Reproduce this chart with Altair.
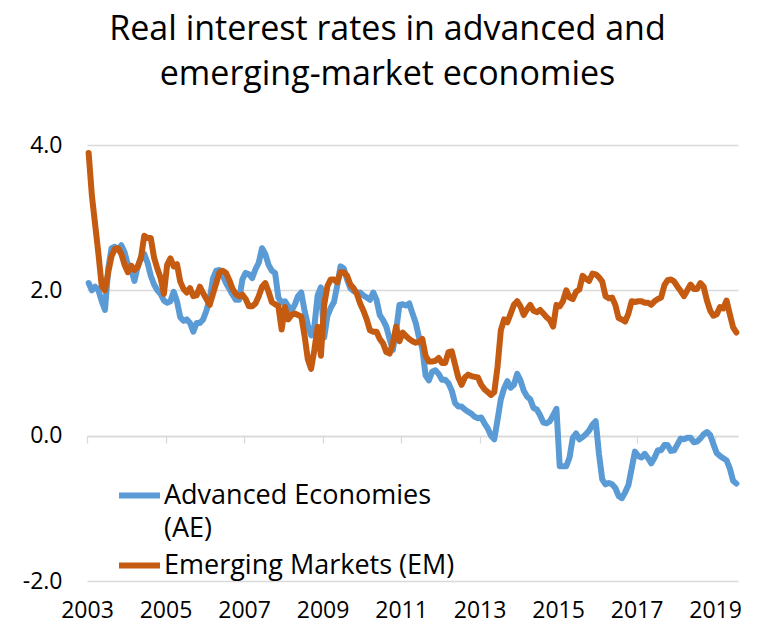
import altair as alt
import pandas as pd

# Monthly observations, Jan 2003 - Jul 2019 (percent)
ae_values = [
    # 2003
    2.10, 2.00, 2.05, 2.00, 1.85, 1.73, 2.30, 2.58, 2.60, 2.56, 2.62, 2.52,
    # 2004
    2.35, 2.29, 2.13, 2.33, 2.45, 2.50, 2.38, 2.20, 2.08, 2.00, 1.95, 1.86,
    # 2005
    1.83, 1.85, 1.98, 1.85, 1.63, 1.58, 1.60, 1.55, 1.43, 1.55, 1.55, 1.60,
    # 2006
    1.72, 1.88, 2.16, 2.27, 2.28, 2.20, 2.10, 2.02, 1.94, 1.87, 1.87, 2.15,
    # 2007
    2.24, 2.22, 2.17, 2.29, 2.38, 2.58, 2.50, 2.35, 2.27, 2.24, 1.90, 1.83,
    # 2008
    1.85, 1.78, 1.72, 1.80, 1.92, 1.97, 1.72, 1.52, 1.38, 1.50, 1.93, 2.04,
    # 2009
    1.35, 1.65, 1.76, 1.84, 2.07, 2.33, 2.30, 2.15, 2.03, 1.99, 1.97, 1.97,
    # 2010
    1.93, 1.90, 1.87, 1.97, 1.87, 1.66, 1.59, 1.50, 1.33, 1.18, 1.45, 1.80,
    # 2011
    1.81, 1.79, 1.82, 1.68, 1.55, 1.35, 1.20, 0.83, 0.76, 0.88, 0.90, 0.85,
    # 2012
    0.77, 0.77, 0.72, 0.62, 0.45, 0.40, 0.40, 0.36, 0.33, 0.30, 0.26, 0.24,
    # 2013
    0.25, 0.17, 0.10, 0.00, -0.05, 0.22, 0.50, 0.65, 0.75, 0.66, 0.70, 0.85,
    # 2014
    0.76, 0.62, 0.54, 0.50, 0.38, 0.36, 0.28, 0.18, 0.17, 0.20, 0.28, 0.37,
    # 2015
    -0.42, -0.42, -0.42, -0.30, -0.03, 0.03, -0.05, -0.02, 0.02, 0.07, 0.15, 0.20,
    # 2016
    -0.25, -0.60, -0.67, -0.65, -0.67, -0.72, -0.83, -0.86, -0.78, -0.68, -0.45, -0.22,
    # 2017
    -0.28, -0.30, -0.25, -0.31, -0.38, -0.30, -0.20, -0.20, -0.13, -0.13, -0.21, -0.20,
    # 2018
    -0.12, -0.04, -0.05, -0.03, -0.03, -0.09, -0.08, -0.04, 0.02, 0.05, 0.01, -0.12,
    # 2019
    -0.24, -0.28, -0.31, -0.34, -0.45, -0.62, -0.66,
]

em_values = [
    # 2003
    3.89, 3.30, 2.90, 2.50, 2.06, 2.00, 2.25, 2.47, 2.57, 2.58, 2.50, 2.35,
    # 2004
    2.25, 2.34, 2.28, 2.32, 2.45, 2.75, 2.72, 2.72, 2.45, 2.30, 2.17, 1.95,
    # 2005
    2.35, 2.44, 2.33, 2.36, 2.12, 2.02, 1.97, 2.03, 1.92, 1.93, 2.05, 1.96,
    # 2006
    1.88, 1.80, 1.95, 2.10, 2.25, 2.27, 2.24, 2.14, 2.02, 1.95, 1.92, 1.94,
    # 2007
    1.88, 1.78, 1.78, 1.82, 1.92, 2.05, 2.10, 1.98, 1.84, 1.81, 1.78, 1.46,
    # 2008
    1.77, 1.60, 1.66, 1.68, 1.66, 1.64, 1.38, 1.05, 0.92, 1.18, 1.50, 1.10,
    # 2009
    1.80, 2.06, 2.15, 2.15, 2.11, 2.25, 2.25, 2.20, 2.08, 2.03, 1.95, 1.82,
    # 2010
    1.72, 1.60, 1.45, 1.43, 1.43, 1.33, 1.27, 1.15, 1.13, 1.27, 1.50, 1.30,
    # 2011
    1.42, 1.37, 1.33, 1.30, 1.28, 1.29, 1.33, 1.10, 1.02, 1.02, 1.03, 1.07,
    # 2012
    1.00, 1.00, 1.15, 1.16, 0.98, 0.80, 0.70, 0.80, 0.84, 0.82, 0.81, 0.80,
    # 2013
    0.70, 0.64, 0.60, 0.56, 0.60, 0.95, 1.45, 1.60, 1.56, 1.68, 1.80, 1.85,
    # 2014
    1.78, 1.66, 1.74, 1.80, 1.72, 1.70, 1.73, 1.68, 1.63, 1.59, 1.50, 1.80,
    # 2015
    1.78, 1.85, 2.00, 1.90, 1.88, 1.98, 2.01, 2.20, 2.16, 2.13, 2.23, 2.22,
    # 2016
    2.18, 2.12, 1.92, 1.89, 1.90, 1.80, 1.62, 1.60, 1.57, 1.68, 1.85, 1.84,
    # 2017
    1.85, 1.85, 1.83, 1.83, 1.80, 1.85, 1.88, 1.90, 2.07, 2.14, 2.15, 2.12,
    # 2018
    2.05, 1.99, 1.92, 2.00, 2.08, 2.02, 2.02, 2.10, 2.05, 1.86, 1.72, 1.65,
    # 2019
    1.67, 1.77, 1.75, 1.86, 1.67, 1.49, 1.42,
]

series_names = ["Advanced Economies (AE)", "Emerging Markets (EM)"]
series_colors = ["#5B9BD5", "#C55A11"]
year_ticks = [2003, 2005, 2007, 2009, 2011, 2013, 2015, 2017, 2019]
y_ticks = [-2, 0, 2, 4]
title_lines = ["Real interest rates in advanced and", "emerging-market economies"]

start_year = 2003
n_months = len(ae_values)
rows = []
for name, vals in zip(series_names, [ae_values, em_values]):
    for m, v in enumerate(vals):
        rows.append({"t": start_year + (m + 0.5) / 12.0, "value": v, "series": name})
df = pd.DataFrame(rows)

FONT = "Open Sans"
x_domain = [start_year, start_year + n_months / 12.0]

x_scale = alt.Scale(domain=x_domain, nice=False, zero=False)
y_scale = alt.Scale(domain=[-2, 4], nice=False, zero=False)

y_axis = alt.Axis(values=y_ticks, domain=False, ticks=False, grid=True,
                  gridColor="#D9D9D9", gridWidth=1.3, labelPadding=25,
                  labelFontSize=23, labelColor="#000000", labelFont=FONT,
                  labelExpr="datum.value < 0 ? '-' + format(-datum.value, '.1f') : format(datum.value, '.1f')")

lines = alt.Chart(df).mark_line(strokeWidth=6, strokeJoin="round", strokeCap="round").encode(
    x=alt.X("t:Q", scale=x_scale, title=None,
            axis=alt.Axis(orient="bottom", values=year_ticks, format="d", domain=False,
                          ticks=False, grid=False, labelPadding=18, labelFontSize=23,
                          labelColor="#000000", labelFont=FONT, labelFlush=False)),
    y=alt.Y("value:Q", scale=y_scale, title=None, axis=y_axis),
    color=alt.Color("series:N", scale=alt.Scale(domain=series_names, range=series_colors),
                    legend=alt.Legend(
                        title=None, orient="none", legendX=29, legendY=327,
                        symbolType="stroke", symbolSize=1681, symbolStrokeWidth=6,
                        labelFontSize=27, labelFont=FONT, labelColor="#000000",
                        labelOffset=1, labelLimit=600, labelBaseline="middle",
                        rowPadding=0, padding=0,
                        labelExpr="datum.label == 'Advanced Economies (AE)' ? ['Advanced Economies', '(AE)'] : datum.label")),
)

zero_axis = alt.Chart(df).mark_line(opacity=0).encode(
    x=alt.X("t:Q", scale=x_scale, title=None,
            axis=alt.Axis(orient="bottom", offset=-145, values=year_ticks, labels=False,
                          domain=True, domainColor="#D9D9D9", domainWidth=1.3,
                          ticks=True, tickColor="#D9D9D9", tickWidth=1.3, tickSize=7,
                          grid=False)),
    y=alt.Y("value:Q", scale=y_scale, title=None, axis=y_axis),
)

chart = alt.layer(zero_axis, lines).resolve_axis(x="independent").properties(
    width=651, height=436,
    autosize=alt.AutoSizeParams(type="none"),
    padding={"left": 79, "top": 137, "right": 21, "bottom": 43},
    title=alt.TitleParams(text=title_lines, fontSize=34, font=FONT, fontWeight="normal",
                          color="#000000", anchor="middle", dx=-25, offset=42,
                          lineHeight=45),
).configure(background="white", style={"guide-label": {"lineHeight": 33}}).configure_view(stroke=None)

chart.save("out.html", embed_options={"renderer": "svg", "actions": False})
